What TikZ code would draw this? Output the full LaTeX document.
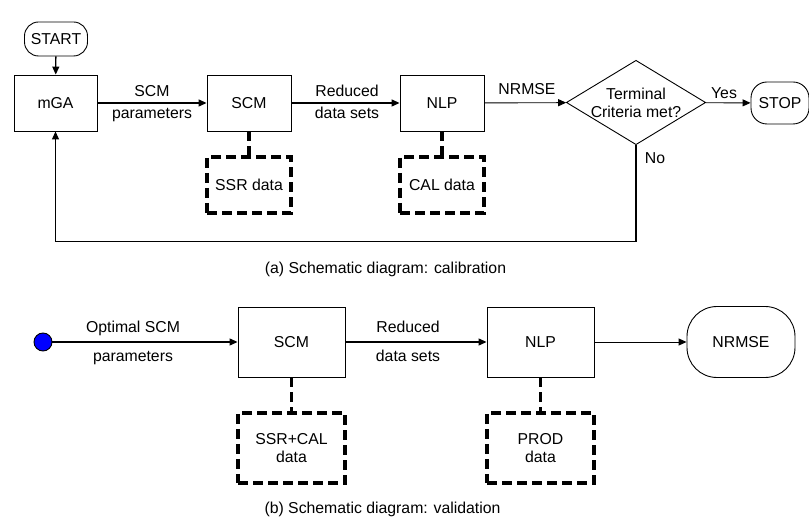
\documentclass[tikz,border=0pt]{standalone}
\usepackage{fontspec}
\setmainfont{Liberation Sans}
\usetikzlibrary{arrows.meta,shapes.geometric}
\tikzset{>={Triangle[length=8pt,width=7pt]}}
\newcommand{\flowfont}{\fontsize{15.8}{18}\selectfont}
\tikzset{
  block/.style={draw,line width=0.9pt,minimum width=84pt,minimum height=56pt,font=\flowfont},
  bigblock/.style={block,minimum width=107pt,minimum height=70pt},
  store/.style={block,line width=3.2pt,dash pattern=on 10pt off 5pt,align=center},
  bigstore/.style={store,minimum width=107pt,minimum height=70pt},
  term/.style={draw,line width=0.9pt,rounded corners=14pt,font=\flowfont},
  decision/.style={draw,diamond,aspect=1.65,inner sep=0pt,line width=0.9pt,align=center,font=\flowfont},
  flow/.style={->,line width=1.3pt},
  datalink/.style={line width=3.2pt,dash pattern=on 10pt off 5pt},
  lab/.style={font=\flowfont,anchor=base}
}

\begin{document}
\begin{tikzpicture}[x=1pt,y=-1pt]
    \useasboundingbox (0,0) rectangle (809,518);

    % (a) calibration
    \node[term,minimum width=63pt,minimum height=34pt] (start) at (56,39) {START};
    \node[block,minimum width=83pt] (mga) at (55.5,103) {mGA};
    \node[block] (scmA) at (249,103) {SCM};
    \node[block] (nlpA) at (442,103) {NLP};
    \node[decision] (crit) at (636,102.5) {Terminal\\Criteria met?};
    \node[term,minimum width=58pt,minimum height=42pt,rounded corners=16pt] (stop) at (780,103) {STOP};
    \node[store] (ssr) at (249,185) {SSR data};
    \node[store] (cal) at (442,185) {CAL data};

    \draw[flow] (start) -- (mga);
    \draw[flow] (mga) -- (scmA);
    \draw[flow] (scmA) -- (nlpA);
    \draw[flow,line width=0.9pt] (nlpA) -- (crit);
    \draw[flow,line width=0.9pt] (crit) -- (stop);
    \draw[flow,line width=1.1pt] (crit.south) -- ++(0,96) -| (mga.south);

    \node[lab] (parA1) at (152,96.7) {SCM};
    \node[lab] (parA2) at (152,119) {parameters};
    \node[lab] (redA1) at (347,96.7) {Reduced};
    \node[lab] (redA2) at (347,118.5) {data sets};
    \node[lab] (errA) at (527,95) {NRMSE};
    \node[lab] (yes) at (724,98.3) {Yes};
    \node[lab] (no) at (655,163.3) {No};

    \node[lab] (capA) at (385.5,273.3) {(a) Schematic diagram: calibration};

    % (b) validation
    \node[draw,circle,fill={rgb,255:red,0;green,0;blue,255},line width=0.9pt,minimum size=18pt,inner sep=0pt] (dot) at (43,342) {};
    \node[bigblock] (scmB) at (291.5,342) {SCM};
    \node[bigblock] (nlpB) at (540.5,342) {NLP};
    \node[term,minimum width=108pt,minimum height=71pt,rounded corners=30pt] (errB) at (741,342) {NRMSE};
    \node[bigstore] (ssrcal) at (291.5,448) {SSR+CAL\\data};
    \node[bigstore] (prod) at (540.5,448) {PROD\\data};

    \draw[flow] (dot) -- (scmB);
    \draw[flow] (scmB) -- (nlpB);
    \draw[flow,line width=0.9pt] (nlpB) -- (errB);

    \node[lab] (parB1) at (133,332.7) {Optimal SCM};
    \node[lab] (parB2) at (133,361.7) {parameters};
    \node[lab] (redB1) at (408,332.7) {Reduced};
    \node[lab] (redB2) at (408,361.7) {data sets};

    \node[lab] (capB) at (382.5,513) {(b) Schematic diagram: validation};

    \foreach \a/\b in {scmA/ssr,nlpA/cal,scmB/ssrcal,nlpB/prod}
      \draw[datalink] (\a) -- (\b);
  \end{tikzpicture}
\end{document}
